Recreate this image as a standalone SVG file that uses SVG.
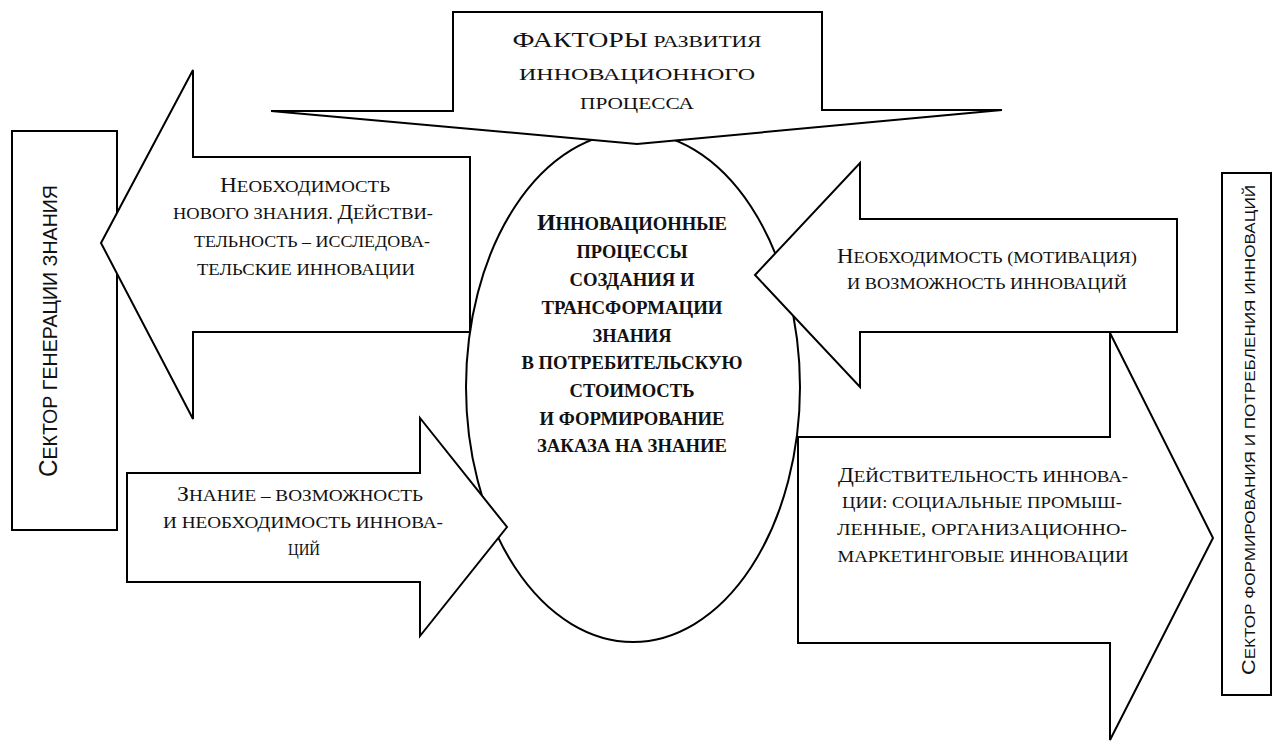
<svg xmlns="http://www.w3.org/2000/svg" width="1274" height="744" viewBox="0 0 1274 744">
<style>
.sh{fill:#fff;stroke:#000;stroke-width:2;stroke-linejoin:miter}
.t{font-family:"Liberation Serif","Times New Roman",serif;font-size:17px;text-anchor:middle;fill:#111}
.t .c{font-size:21px}
.b{font-family:"Liberation Serif","Times New Roman",serif;font-size:18px;font-weight:bold;text-anchor:middle;fill:#111}
.b .c{font-size:23px}
.s{font-family:"Liberation Sans",Arial,sans-serif;text-anchor:middle;fill:#111}
</style>
<rect width="1274" height="744" fill="#fff"/>
<g id="sector-left">
<rect class="sh" x="12" y="131" width="105" height="399"/>
<text class="s" font-size="21" transform="translate(57,331) rotate(-90)" textLength="292" lengthAdjust="spacingAndGlyphs"><tspan font-size="26">С</tspan>ЕКТОР ГЕНЕРАЦИИ ЗНАНИЯ</text>
</g>
<g id="sector-right">
<rect class="sh" x="1222" y="173" width="49" height="522"/>
<text class="s" font-size="15" transform="translate(1255,430) rotate(-90)" textLength="490" lengthAdjust="spacingAndGlyphs"><tspan font-size="19">С</tspan>ЕКТОР ФОРМИРОВАНИЯ И ПОТРЕБЛЕНИЯ ИННОВАЦИЙ</text>
</g>
<g id="center">
<ellipse class="sh" cx="633" cy="387" rx="167" ry="255" stroke-width="2.5"/>
<text class="b" x="632" y="230" textLength="190" lengthAdjust="spacingAndGlyphs"><tspan class="c">И</tspan>ННОВАЦИОННЫЕ</text>
<text class="b" x="632" y="258" textLength="111" lengthAdjust="spacingAndGlyphs">ПРОЦЕССЫ</text>
<text class="b" x="632" y="286" textLength="125" lengthAdjust="spacingAndGlyphs">СОЗДАНИЯ И</text>
<text class="b" x="632" y="314" textLength="181" lengthAdjust="spacingAndGlyphs">ТРАНСФОРМАЦИИ</text>
<text class="b" x="632" y="342" textLength="79" lengthAdjust="spacingAndGlyphs">ЗНАНИЯ</text>
<text class="b" x="632" y="369" textLength="221" lengthAdjust="spacingAndGlyphs">В ПОТРЕБИТЕЛЬСКУЮ</text>
<text class="b" x="632" y="397" textLength="125" lengthAdjust="spacingAndGlyphs">СТОИМОСТЬ</text>
<text class="b" x="632" y="425" textLength="185" lengthAdjust="spacingAndGlyphs">И ФОРМИРОВАНИЕ</text>
<text class="b" x="632" y="452" textLength="190" lengthAdjust="spacingAndGlyphs">ЗАКАЗА НА ЗНАНИЕ</text>
</g>
<g id="connectors">
<g id="arrow-factors">
<polygon class="sh" points="271,111 453,111 453,12 822,12 822,110 1002,110 637,144"/>
<text class="t" x="637" y="47" textLength="249" lengthAdjust="spacingAndGlyphs"><tspan font-size="22">ФАКТОРЫ</tspan> РАЗВИТИЯ</text>
<text class="t" x="637" y="80" font-size="18" textLength="236" lengthAdjust="spacingAndGlyphs">ИННОВАЦИОННОГО</text>
<text class="t" x="637" y="109" font-size="18" textLength="114" lengthAdjust="spacingAndGlyphs">ПРОЦЕССА</text>
</g>
<g id="arrow-left">
<polygon class="sh" points="101,243 193,70 193,157 470,157 470,332 193,332 193,419"/>
<text class="t" x="305" y="192" textLength="170" lengthAdjust="spacingAndGlyphs"><tspan class="c">Н</tspan>ЕОБХОДИМОСТЬ</text>
<text class="t" x="303" y="219" textLength="260" lengthAdjust="spacingAndGlyphs">НОВОГО ЗНАНИЯ. <tspan class="c">Д</tspan>ЕЙСТВИ-</text>
<text class="t" x="312" y="247" textLength="236" lengthAdjust="spacingAndGlyphs">ТЕЛЬНОСТЬ – ИССЛЕДОВА-</text>
<text class="t" x="306" y="275" textLength="218" lengthAdjust="spacingAndGlyphs">ТЕЛЬСКИЕ ИННОВАЦИИ</text>
</g>
<g id="arrow-knowledge">
<polygon class="sh" points="127,473 420,473 420,418 507,527 420,636 420,582 127,582"/>
<text class="t" x="300" y="501" textLength="246" lengthAdjust="spacingAndGlyphs"><tspan class="c">З</tspan>НАНИЕ  – ВОЗМОЖНОСТЬ</text>
<text class="t" x="303" y="528" textLength="280" lengthAdjust="spacingAndGlyphs">И НЕОБХОДИМОСТЬ ИННОВА-</text>
<text class="t" x="304" y="555" textLength="32" lengthAdjust="spacingAndGlyphs">ЦИЙ</text>
</g>
<g id="arrow-need">
<polygon class="sh" points="755,275 860,163 860,219 1177,219 1177,332 860,332 860,387"/>
<text class="t" x="987" y="263" textLength="300" lengthAdjust="spacingAndGlyphs"><tspan class="c">Н</tspan>ЕОБХОДИМОСТЬ (МОТИВАЦИЯ)</text>
<text class="t" x="987" y="289" textLength="280" lengthAdjust="spacingAndGlyphs">И ВОЗМОЖНОСТЬ ИННОВАЦИЙ</text>
</g>
<g id="arrow-reality">
<polygon class="sh" points="798,437 1110,437 1110,333 1213,538 1110,740 1110,643 798,643"/>
<text class="t" x="983" y="482" textLength="290" lengthAdjust="spacingAndGlyphs"><tspan class="c">Д</tspan>ЕЙСТВИТЕЛЬНОСТЬ ИННОВА-</text>
<text class="t" x="982" y="508" textLength="280" lengthAdjust="spacingAndGlyphs">ЦИИ: СОЦИАЛЬНЫЕ ПРОМЫШ-</text>
<text class="t" x="982" y="535" textLength="290" lengthAdjust="spacingAndGlyphs">ЛЕННЫЕ, ОРГАНИЗАЦИОННО-</text>
<text class="t" x="983" y="562" textLength="291" lengthAdjust="spacingAndGlyphs">МАРКЕТИНГОВЫЕ ИННОВАЦИИ</text>
</g>
</g>
</svg>
